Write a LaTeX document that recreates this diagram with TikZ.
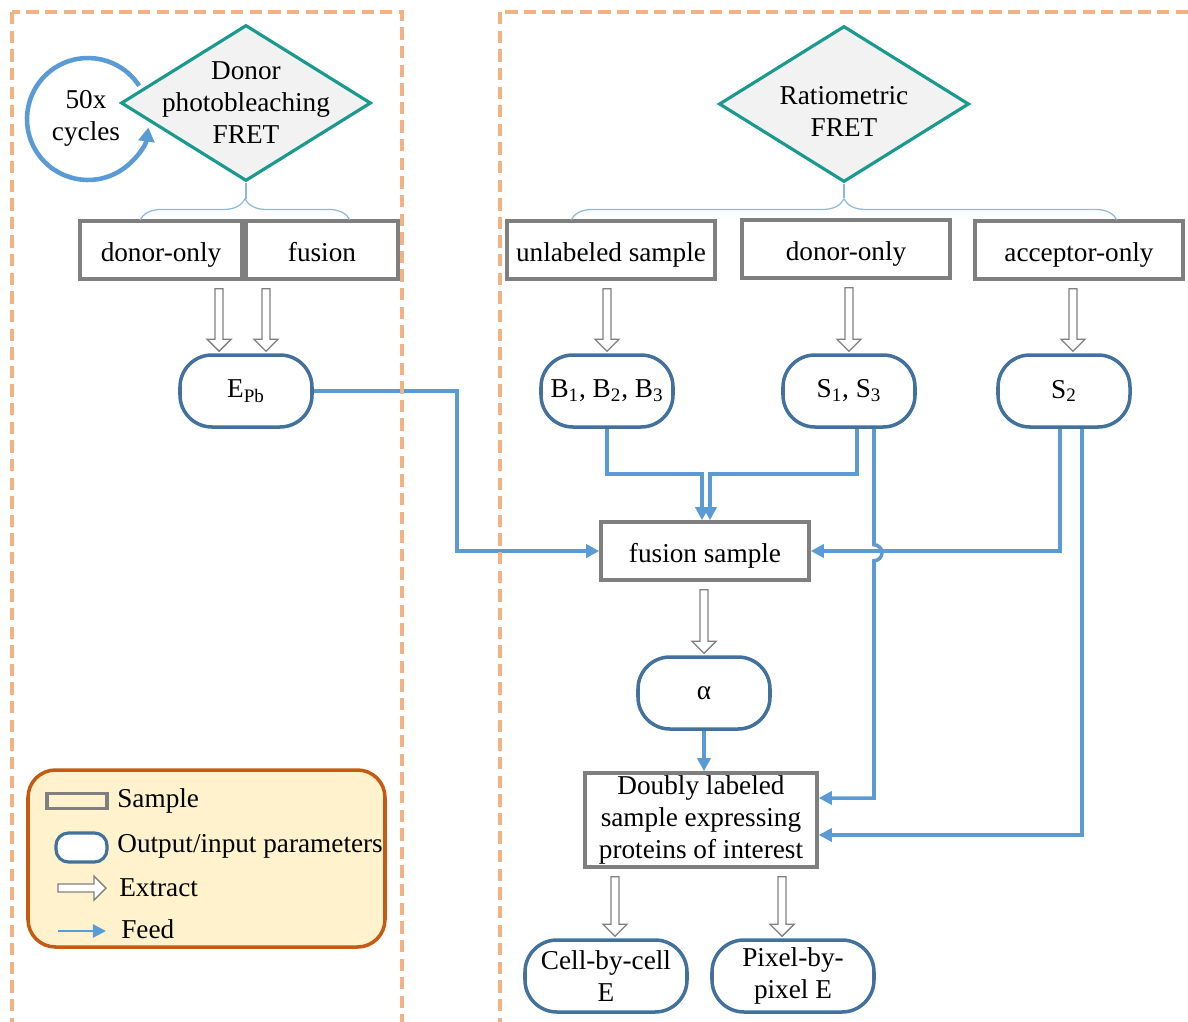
\documentclass[tikz,border=0pt]{standalone}
\usepackage{fontspec}
\setmainfont{Liberation Serif}
\usetikzlibrary{shapes.geometric,arrows.meta,calc,decorations.pathreplacing}
\definecolor{dashorange}{HTML}{F4B183}
\definecolor{diamteal}{HTML}{1A9A8E}
\definecolor{boxgray}{HTML}{7F7F7F}
\definecolor{parblue}{HTML}{41719C}
\definecolor{feedblue}{HTML}{5B9BD5}
\definecolor{legfill}{HTML}{FFF2CC}
\definecolor{legedge}{HTML}{C55A11}
\newcommand\pu{0.02cm}
% hollow extract arrow, from below #1 down to #2
\newcommand\extract[2]{%
  \path (#2) ++(0,-2) coordinate (tip) (tip |- #1) ++(0,8) coordinate (top);
  \draw[extract] ($(top)+(-4,0)$) -- ($(tip)+(-4,-12)$) -- ++(-8,0) -- (tip)
    -- ($(tip)+(12,-12)$) -- ++(-8,0) -- ($(top)+(4,0)$) -- cycle;}
\begin{document}
\begin{tikzpicture}[x=\pu, y=-\pu, font=\fontsize{15.5}{18.2}\selectfont,
  sample/.style={draw=boxgray, line width=2pt, fill=white, minimum height=58*\pu, inner sep=0pt,
    text height=16pt, text depth=3.4pt},
  param/.style={draw=parblue, line width=2pt, fill=white, rounded corners=0.64cm, minimum width=132*\pu,
    minimum height=72*\pu, align=center, inner sep=0pt},
  method/.style={diamond, draw=diamteal, line width=1.8pt, fill=gray!10, minimum width=250*\pu,
    minimum height=156*\pu, inner sep=0pt},
  feed/.style={feedblue, line width=2pt, -{Triangle[length=7.5pt,width=7.5pt]}},
  extract/.style={draw=gray, line width=0.8pt, fill=white},
  region/.style={dashorange, line width=2.4pt, dash pattern=on 7pt off 3.6pt},
  bracket/.style={feedblue!70, line width=0.7pt, decorate, decoration={brace, amplitude=12pt}},
  legtext/.style={anchor=west, inner sep=0pt}]
\useasboundingbox (0,0) rectangle (1188,1022);
\clip (0,0) rectangle (1188,1022);

% methods
\node[method, label={[align=center]center:Donor\\photobleaching\\FRET}] (pb) at (246,103) {};
\node[method, label={[align=center,yshift=-4pt]center:Ratiometric\\FRET}] (ratio) at (844,104) {};
\draw[feedblue, line width=2.6pt, -{Triangle[length=8pt,width=9pt]}]
  ([shift={(33:1.22cm)}]88,119) arc[start angle=33, end angle=352, radius=1.22cm];
\node[align=center] (cyc) at (86,118) {50x\\cycles};

% samples
\node[sample, minimum width=162*\pu] (donL) at (161,250) {donor-only};
\node[sample, minimum width=152*\pu] (fus) at (322,250) {fusion};
\node[sample, minimum width=208*\pu] (unlab) at (611,250) {unlabeled sample};
\node[sample, minimum width=208*\pu] (donR) at (846,249) {donor-only};
\node[sample, minimum width=208*\pu] (acc) at (1079,250) {acceptor-only};
\node[sample, minimum width=208*\pu] (fsamp) at (705,551) {fusion sample};
\node[sample, minimum width=232*\pu, minimum height=94*\pu, align=center, text height=, text depth=] (dbl)
  at (701,820) {Doubly labeled\\sample expressing\\proteins of interest};

\draw[bracket] (140,220) -- (350,220);
\draw[feedblue!70, line width=0.7pt] (pb.south) -- ++(0,16);
\draw[bracket] (571,220) -- (1117,220);
\draw[feedblue!70, line width=0.7pt] (ratio.south) -- ++(0,14);

% parameters
\node[param] (epb) at (246,391) {E\textsubscript{Pb}};
\node[param] (bbb) at (607,391) {B\textsubscript{1}, B\textsubscript{2}, B\textsubscript{3}};
\node[param] (s13) at (849,391) {S\textsubscript{1}, S\textsubscript{3}};
\node[param] (s2) at (1064,391) {S\textsubscript{2}};
\node[param] (alpha) at (704,693) {α};
\node[param, minimum width=162*\pu] (cell) at (606,976) {Cell-by-cell\\E};
\node[param, minimum width=162*\pu] (pix) at (793,976) {Pixel-by-\\pixel E};

% extract
\coordinate (eL) at ([xshift=-0.54cm]epb.north);
\coordinate (eR) at ([xshift=0.4cm]epb.north);
\coordinate (eA) at ([xshift=0.18cm]s2.north);
\coordinate (eC) at ([xshift=0.18cm]cell.north);
\coordinate (eP) at ([xshift=-0.22cm]pix.north);
\extract{donL.south}{eL}
\extract{fus.south}{eR}
\extract{unlab.south}{bbb.north}
\extract{donR.south}{s13.north}
\extract{acc.south}{eA}
\extract{fsamp.south}{alpha.north}
\extract{dbl.south}{eC}
\extract{dbl.south}{eP}

% feed
\draw[feed] (epb.east) -- ++(143,0) |- (fsamp.west);
\draw[feed] (bbb.south) -- ++(0,45) -| ([xshift=-0.06cm]fsamp.north);
\draw[feed] ([xshift=0.16cm]s13.south) -- ++(0,45) -| ([xshift=0.1cm]fsamp.north);
\draw[feed] ([xshift=-0.08cm]s2.south) |- (fsamp.east);
\draw[feed] ([xshift=0.5cm]s13.south) -- ++(0,116) arc[start angle=90, end angle=-90, radius=0.16cm]
  |- ([yshift=0.44cm]dbl.east);
\draw[feed] ([xshift=0.36cm]s2.south) |- ([yshift=-0.3cm]dbl.east);
\draw[feed] (alpha.south) -- (alpha.south |- dbl.north);

% legend
\node[draw=legedge, fill=legfill, line width=2pt, rounded corners=0.55cm, minimum width=357*\pu,
  minimum height=177*\pu] (legend) at (206.5,858.5) {};
\node[draw=boxgray, line width=1.8pt, minimum width=60*\pu, minimum height=15*\pu, inner sep=0pt] (lsamp) at (77,801) {};
\node[legtext] (tsamp) at (117,801) {Sample};
\node[draw=parblue, line width=1.8pt, fill=white, rounded corners=0.25cm, minimum width=51*\pu,
  minimum height=29*\pu, inner sep=0pt] (lpar) at (81.5,847.5) {};
\node[legtext] (tpar) at (117,846) {Output/input parameters};
\coordinate (lext) at (58,888);
\draw[extract] (lext) ++(0,-4) -- ++(36,0) -- ++(0,-8) -- ++(12,12) -- ++(-12,12) -- ++(0,-8)
  -- ++(-36,0) -- cycle;
\node[legtext] (text) at (119,888) {Extract};
\coordinate (lfeed) at (58,931);
\draw[feed, line width=1.4pt] (lfeed) -- ++(48,0);
\node[legtext] (tfeed) at (121,929) {Feed};

% regions
\draw[region] (12,12) rectangle (402,1060);
\draw[region] (500,12) rectangle (1230,1060);
\end{tikzpicture}
\end{document}
